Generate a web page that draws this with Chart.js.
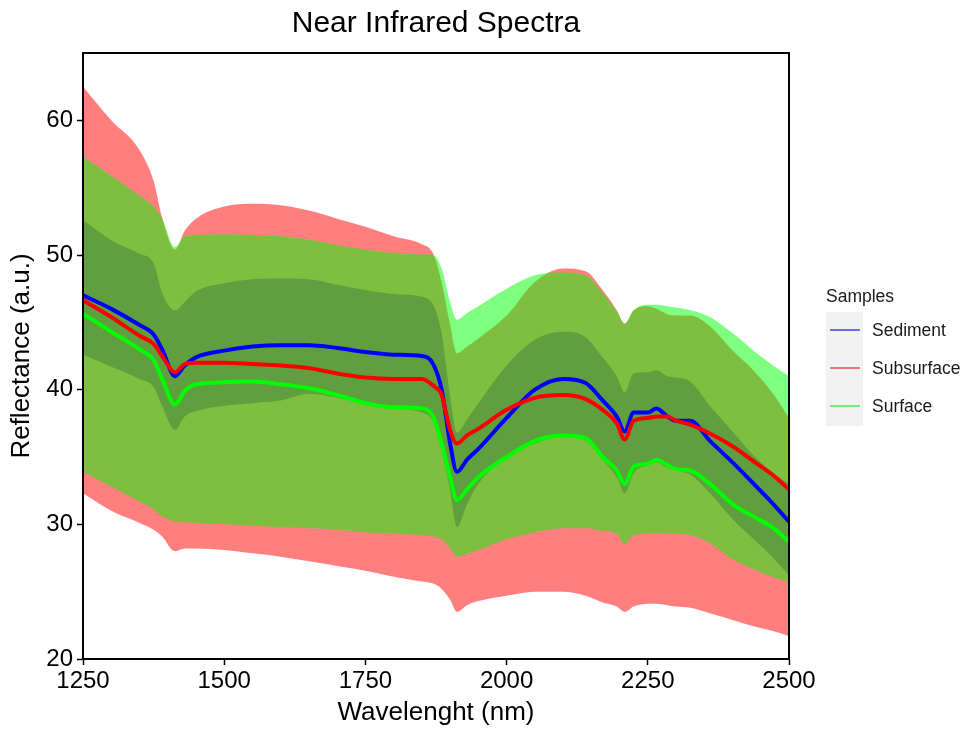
<!DOCTYPE html>
<html>
<head>
<meta charset="utf-8">
<title>Near Infrared Spectra</title>
<script src="https://cdn.jsdelivr.net/npm/chart.js@4.4.0/dist/chart.umd.min.js"></script>
<style>
  html, body { margin: 0; padding: 0; background: #fff; }
  #wrap { position: relative; width: 965px; height: 729px; font-family: "Liberation Sans", Arial, sans-serif; color: #1a1a1a; }
  #chart { position: absolute; left: 0; top: 0; }
  .lg-title { position: absolute; left: 826px; top: 286px; font-size: 17.5px; line-height: 20px; }
  .lg-keys { position: absolute; left: 826px; top: 312px; width: 37px; height: 114px; background: #f2f2f2; }
  .lg-line { position: absolute; left: 830px; width: 30px; height: 2px; }
  .lg-text { position: absolute; left: 872px; font-size: 17.5px; line-height: 20px; }
</style>
</head>
<body>
<div id="wrap">
  <canvas id="chart" width="965" height="729"></canvas>
  <div id="legend"></div>
</div>
<script>
// ── data ─────────────────────────────────────────────────────
const WAVELENGTH = [1250, 1300, 1350, 1375, 1390, 1413, 1430, 1450, 1500, 1550,
                    1600, 1650, 1700, 1750, 1800, 1850, 1870, 1885, 1900, 1912,
                    1930, 1950, 2000, 2050, 2100, 2140, 2170, 2195, 2209, 2225,
                    2250, 2265, 2285, 2300, 2325, 2360, 2400, 2440, 2470, 2500];

const SEDIMENT_MEAN = [47.0, 46.0, 44.8, 44.1, 43.0, 41.0, 41.8, 42.4, 42.9, 43.2,
                       43.3, 43.3, 43.1, 42.8, 42.6, 42.5, 41.9, 40.0, 36.0, 33.9,
                       34.8, 35.6, 37.9, 40.0, 40.8, 40.5, 39.2, 38.0, 36.9, 38.3,
                       38.3, 38.6, 38.0, 37.7, 37.7, 36.2, 34.6, 32.9, 31.6, 30.2];
const SEDIMENT_MAX  = [52.6, 51.1, 50.1, 49.4, 47.2, 45.9, 46.5, 47.3, 47.9, 48.2,
                       48.25, 48.2, 47.8, 47.4, 47.1, 46.9, 46.3, 44.2, 39.5, 36.8,
                       37.8, 39.0, 41.8, 43.7, 44.3, 43.9, 42.4, 41.0, 39.8, 41.2,
                       41.3, 41.45, 41.0, 40.9, 40.6, 38.8, 36.9, 35.0, 33.9, 33.0];
const SEDIMENT_MIN  = [42.6, 41.7, 40.8, 40.2, 38.8, 37.0, 38.0, 38.4, 38.8, 39.0,
                       39.2, 39.7, 39.4, 38.9, 38.6, 38.3, 37.6, 35.5, 32.5, 29.8,
                       31.5, 33.0, 35.0, 36.0, 36.5, 36.2, 34.8, 33.5, 32.3, 33.8,
                       34.4, 34.6, 34.2, 34.0, 33.7, 32.3, 30.4, 28.8, 27.6, 26.2];

const SUBSURFACE_MEAN = [46.65, 45.4, 44.0, 43.4, 42.5, 41.3, 41.9, 42.0, 42.0, 41.9,
                         41.8, 41.6, 41.2, 40.9, 40.8, 40.8, 40.3, 39.6, 37.0, 36.0,
                         36.6, 37.1, 38.5, 39.4, 39.6, 39.3, 38.5, 37.5, 36.3, 37.7,
                         37.9, 38.0, 38.0, 37.7, 37.4, 36.75, 35.8, 34.6, 33.7, 32.6];
const SUBSURFACE_MAX  = [62.5, 60.0, 57.8, 55.5, 52.8, 50.4, 51.8, 52.7, 53.6, 53.8,
                         53.7, 53.3, 52.7, 52.1, 51.4, 50.8, 50.1, 48.0, 44.8, 42.7,
                         43.2, 43.8, 45.5, 48.0, 49.0, 48.8, 47.4, 45.9, 44.9, 45.9,
                         46.2, 46.0, 45.6, 45.5, 45.5, 44.7, 42.9, 41.3, 39.8, 37.9];
const SUBSURFACE_MIN  = [32.3, 31.0, 30.1, 29.6, 29.1, 28.0, 28.2, 28.2, 28.1, 27.85,
                         27.6, 27.25, 26.9, 26.55, 26.1, 25.75, 25.6, 25.2, 24.4, 23.5,
                         24.0, 24.3, 24.7, 25.0, 25.0, 24.7, 24.2, 23.9, 23.5, 23.9,
                         24.1, 24.1, 24.0, 23.9, 23.8, 23.4, 22.9, 22.4, 22.1, 21.7];

const SURFACE_MEAN = [45.65, 44.3, 43.0, 42.2, 40.8, 38.9, 39.9, 40.4, 40.55, 40.6,
                      40.4, 40.1, 39.6, 39.0, 38.7, 38.6, 38.0, 36.0, 33.5, 31.8,
                      32.6, 33.5, 35.0, 36.2, 36.6, 36.4, 35.0, 34.0, 33.0, 34.3,
                      34.5, 34.8, 34.4, 34.1, 34.0, 33.0, 31.5, 30.5, 29.8, 28.7];
const SURFACE_MAX  = [57.3, 55.9, 54.4, 53.6, 52.7, 50.6, 51.4, 51.5, 51.55, 51.5,
                      51.4, 51.15, 50.75, 50.4, 50.15, 50.05, 50.0, 49.0, 46.5, 45.2,
                      45.7, 46.2, 47.5, 48.5, 48.7, 48.5, 47.2, 45.8, 44.9, 45.9,
                      46.3, 46.3, 46.2, 46.1, 45.9, 45.4, 44.2, 42.8, 41.85, 41.0];
const SURFACE_MIN  = [33.9, 32.8, 31.7, 31.1, 30.6, 30.2, 30.15, 30.1, 30.0, 29.9,
                      29.8, 29.7, 29.6, 29.4, 29.3, 29.2, 29.1, 28.9, 28.2, 27.6,
                      27.8, 28.1, 28.9, 29.4, 29.7, 29.7, 29.5, 29.3, 28.5, 29.2,
                      29.3, 29.35, 29.3, 29.3, 29.2, 28.6, 27.4, 26.6, 26.1, 25.7];

const SAMPLES = ['Sediment', 'Subsurface', 'Surface'];
const X_TICKS = [1250, 1500, 1750, 2000, 2250, 2500];
const Y_TICKS = [20, 30, 40, 50, 60];

// ── styles ───────────────────────────────────────────────────
const FONT = '"Liberation Sans", Arial, sans-serif';
const LINE_COLORS = ['#0000ff', '#ff0000', '#00ff00'];
const FILL_COLORS = ['rgba(0,0,255,0.5)', 'rgba(255,0,0,0.5)', 'rgba(0,255,0,0.5)'];
const KEY_COLORS  = ['#6b6be8', '#ec7575', '#7de87d'];

const MEANS = [SEDIMENT_MEAN, SUBSURFACE_MEAN, SURFACE_MEAN];
const MAXS  = [SEDIMENT_MAX, SUBSURFACE_MAX, SURFACE_MAX];
const MINS  = [SEDIMENT_MIN, SUBSURFACE_MIN, SURFACE_MIN];

const pts = arr => WAVELENGTH.map((w, i) => ({ x: w, y: arr[i] }));

// ribbons first (Sediment at the bottom), then the mean lines
const datasets = [];
SAMPLES.forEach((s, i) => {
    datasets.push({
        label: s + ' max', data: pts(MAXS[i]), fill: '+1',
        backgroundColor: FILL_COLORS[i], borderColor: 'transparent', borderWidth: 0,
        pointRadius: 0, order: 30 - i * 10,
    });
    datasets.push({
        label: s + ' min', data: pts(MINS[i]), fill: false,
        borderColor: 'transparent', borderWidth: 0, pointRadius: 0, order: 29 - i * 10,
    });
});
SAMPLES.forEach((s, i) => {
    datasets.push({
        label: s, data: pts(MEANS[i]), fill: false,
        borderColor: LINE_COLORS[i], borderWidth: 4, pointRadius: 0, order: 3 - i,
        borderCapStyle: 'round', borderJoinStyle: 'round',
    });
});

// black box round the panel
const panelBorder = {
    id: 'panelBorder',
    afterDatasetsDraw(chart) {
        const { ctx, chartArea: a } = chart;
        ctx.save();
        ctx.strokeStyle = '#000';
        ctx.lineWidth = 2;
        ctx.strokeRect(a.left, a.top, a.right - a.left, a.bottom - a.top);
        ctx.restore();
    },
};

Chart.defaults.font.family = FONT;

new Chart(document.getElementById('chart'), {
    type: 'line',
    data: { datasets },
    plugins: [panelBorder],
    options: {
        responsive: false,
        animation: false,
        events: [],
        layout: { padding: { left: 0, right: 176, top: 0, bottom: 0 } },
        elements: { line: { cubicInterpolationMode: 'monotone' } },
        plugins: {
            legend: { display: false },
            tooltip: { enabled: false },
            title: {
                display: true, text: 'Near Infrared Spectra', color: '#000', fullSize: false,
                font: { size: 30, weight: 'normal', family: FONT },
                padding: { top: 6, bottom: 11 },
            },
        },
        scales: {
            x: {
                type: 'linear', min: 1250, max: 2500,
                afterBuildTicks: s => { s.ticks = X_TICKS.map(v => ({ value: v })); },
                afterFit: s => { s.height = 70; },
                grid: { drawOnChartArea: false, drawTicks: true, tickLength: 6, tickWidth: 1.5, tickColor: '#000' },
                border: { color: '#000', width: 2 },
                ticks: { color: '#000', font: { size: 24 }, padding: 2, maxRotation: 0, callback: v => String(v) },
                title: { display: true, text: 'Wavelenght (nm)', color: '#000', font: { size: 26 }, padding: { top: 0, bottom: 1 } },
            },
            y: {
                type: 'linear', min: 20, max: 65,
                afterBuildTicks: s => { s.ticks = Y_TICKS.map(v => ({ value: v })); },
                afterFit: s => { s.width = 83; },
                grid: { drawOnChartArea: false, drawTicks: true, tickLength: 6, tickWidth: 1.5, tickColor: '#000' },
                border: { color: '#000', width: 2 },
                ticks: { color: '#000', font: { size: 24 }, padding: 4, callback: v => String(v) },
                title: { display: true, text: 'Reflectance (a.u.)', color: '#000', font: { size: 26 }, padding: { top: 6, bottom: 0 } },
            },
        },
    },
});

// ggplot-style legend on the right
const lg = document.getElementById('legend');
let html = '<div class="lg-title">Samples</div><div class="lg-keys"></div>';
SAMPLES.forEach((s, i) => {
    const cy = 330 + i * 38;
    html += `<div class="lg-line" style="top:${cy - 1}px;background:${KEY_COLORS[i]}"></div>`;
    html += `<div class="lg-text" style="top:${cy - 10}px">${s}</div>`;
});
lg.innerHTML = html;
</script>
</body>
</html>
